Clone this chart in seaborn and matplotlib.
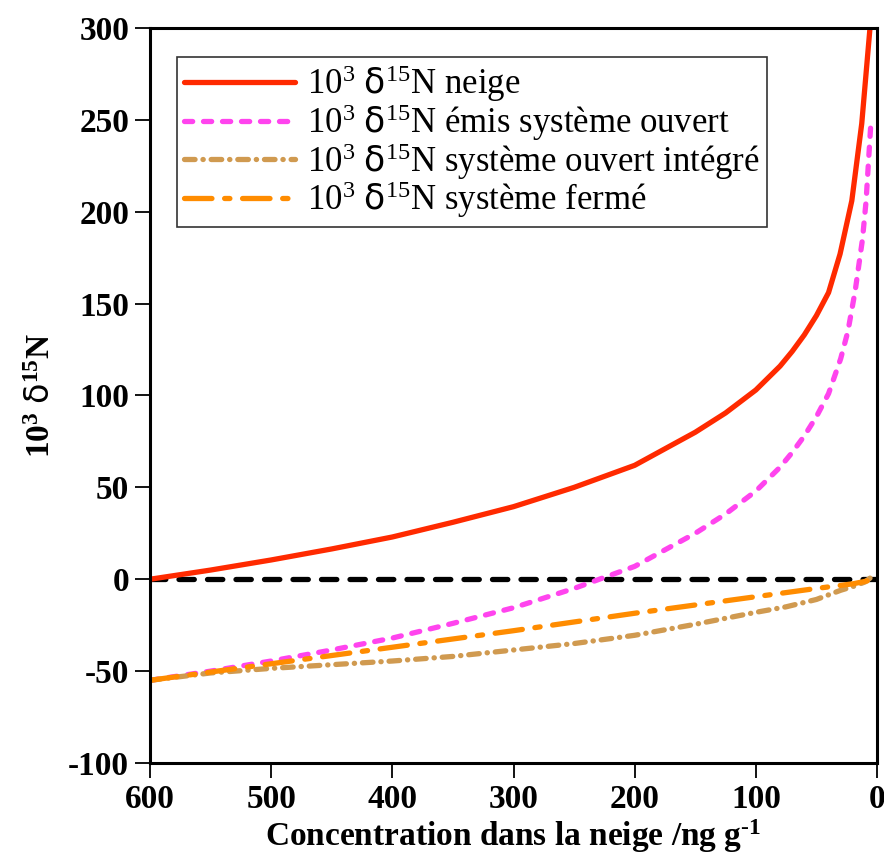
import matplotlib
matplotlib.use("Agg")
import matplotlib.pyplot as plt
import seaborn as sns
import pandas as pd

# ---- data ----
neige_x = [600, 550, 500, 450, 400, 350, 300, 250, 200, 175, 150, 125, 100, 90, 80, 70, 60, 50, 40, 30.5, 20.8, 12.6, 5.8]
neige_y = [0, 5, 10.5, 16.5, 23, 31, 39.5, 50, 62, 71, 80, 90.5, 103, 109.5, 116, 124, 133, 143.5, 156, 177, 206, 248, 300]

emis_x = [600, 550, 500, 450, 400, 350, 300, 250, 200, 175, 150, 125, 100, 90, 80, 70, 60, 50, 40, 30, 24, 18, 12, 9, 5.2]
emis_y = [-55, -50, -44.5, -38.5, -32, -24, -15.5, -5, 7, 16, 25, 35.5, 48, 54.5, 61, 69, 78, 88.5, 101, 120, 135, 157, 185, 206, 247]

integ_x = [600, 550, 500, 450, 400, 350, 300, 250, 200, 150, 100, 75, 50, 40, 30, 20, 10, 5, 1.5]
integ_y = [-55, -51, -48.5, -46.5, -44.5, -42, -38.5, -35, -30.5, -24.5, -18, -15, -11, -8.5, -6, -4, -1.5, 1, 3.5]

ferme_x = [600, 500, 400, 300, 200, 100, 50, 20, 5, 0]
ferme_y = [-55, -46, -37, -28, -18.5, -9.5, -5, -2.5, -0.5, 0]

labels = [
    "10$^{3}$ $\\mathsf{δ}^{15}$N neige",
    "10$^{3}$ $\\mathsf{δ}^{15}$N émis système ouvert",
    "10$^{3}$ $\\mathsf{δ}^{15}$N système ouvert intégré",
    "10$^{3}$ $\\mathsf{δ}^{15}$N système fermé",
]
x_ticks = [600, 500, 400, 300, 200, 100, 0]
y_ticks = [-100, -50, 0, 50, 100, 150, 200, 250, 300]

sns.set_theme(style="white")
plt.rcParams["font.family"] = ["Liberation Serif", "DejaVu Serif"]
plt.rcParams["mathtext.fontset"] = "custom"
plt.rcParams["mathtext.rm"] = "Liberation Serif"
plt.rcParams["mathtext.it"] = "Liberation Serif:italic"
plt.rcParams["mathtext.bf"] = "Liberation Serif:bold"
plt.rcParams["mathtext.sf"] = "DejaVu Sans"
plt.rcParams["axes.unicode_minus"] = False
for k in ["text.color", "axes.labelcolor", "xtick.color", "ytick.color", "axes.edgecolor"]:
    plt.rcParams[k] = "black"

fig = plt.figure(figsize=(8.84, 8.64), dpi=100)
ax = fig.add_axes([0.1697, 0.1169, 0.9921 - 0.1697, 0.9676 - 0.1169])

LW = 3.8
zl = ax.axhline(0, color="black", lw=LW, zorder=1)
zl.set_dashes((2.9, 2.5))
zl.set_dash_capstyle("round")

series = [
    (neige_x, neige_y, "#FF2A00", None, labels[0]),
    (emis_x, emis_y, "#FF44EE", (1.55, 2.05), labels[1]),
    (integ_x, integ_y, "#D09A50", (2.0, 1.5, 0.05, 1.5), labels[2]),
    (ferme_x, ferme_y, "#FF8C00", (5.2, 2.4, 1.0, 2.4), labels[3]),
]
for xs, ys, col, dash, lab in series:
    df = pd.DataFrame({"x": xs, "y": ys})
    sns.lineplot(data=df, x="x", y="y", color=col, linewidth=LW, ax=ax, label=lab,
                 sort=False, estimator=None)
    line = ax.get_lines()[-1]
    line.set_solid_capstyle("round")
    line.set_dash_capstyle("round")
    if dash is not None:
        line.set_dashes(dash)

ax.set_xlim(600, 0)
ax.set_ylim(-100, 300)
ax.set_xticks(x_ticks)
ax.set_yticks(y_ticks)
ax.tick_params(axis="both", which="major", direction="out", length=11, width=1.3,
               labelsize=24, pad=4, color="black", bottom=True, left=True)
for lab in ax.get_xticklabels() + ax.get_yticklabels():
    lab.set_fontweight("bold")
for sp in ax.spines.values():
    sp.set_color("black")
    sp.set_linewidth(2.2)

ax.set_xlabel("Concentration dans la neige /ng g$^{\\mathbf{\\text{-}1}}$", fontsize=24,
              fontweight="bold", labelpad=2)
ax.set_ylabel("10$^{\\mathbf{3}}$ $\\mathsf{δ}^{\\mathbf{15}}$N", fontsize=24,
              fontweight="bold", labelpad=8)

leg = ax.legend(loc="upper left", bbox_to_anchor=(0.037, 0.961), fontsize=25,
                frameon=True, fancybox=False, handlelength=3.2, handletextpad=0.35,
                labelspacing=-0.06, borderpad=0.2, borderaxespad=0)
leg.get_frame().set_edgecolor("black")
leg.get_frame().set_linewidth(1.2)
for h in leg.get_lines():
    h.set_linewidth(LW)

fig.savefig("out.png", dpi=100)
